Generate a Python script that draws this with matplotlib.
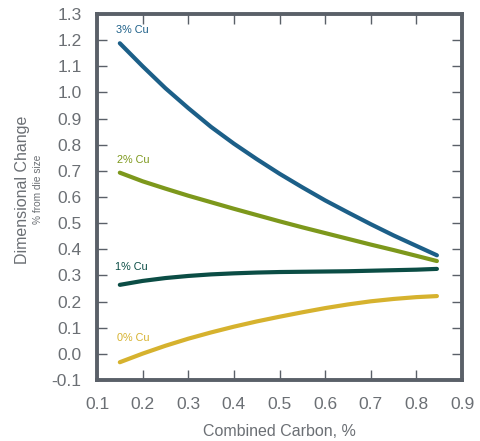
import numpy as np
import matplotlib
matplotlib.use("Agg")
from matplotlib import pyplot as plt

# combined carbon (%) and dimensional change (% from die size)
carbon = [0.15, 0.20, 0.25, 0.30, 0.35, 0.40, 0.45, 0.50, 0.55, 0.60, 0.65, 0.70, 0.75, 0.80, 0.845]
cu3 = [1.188, 1.100, 1.016, 0.940, 0.868, 0.804, 0.745, 0.689, 0.637, 0.587, 0.541, 0.496, 0.453, 0.413, 0.377]
cu2 = [0.693, 0.660, 0.632, 0.605, 0.580, 0.555, 0.531, 0.507, 0.484, 0.462, 0.440, 0.418, 0.397, 0.375, 0.355]
cu1 = [0.264, 0.279, 0.290, 0.298, 0.304, 0.308, 0.311, 0.313, 0.314, 0.315, 0.316, 0.318, 0.320, 0.322, 0.325]
cu0 = [-0.032, 0.001, 0.031, 0.058, 0.082, 0.104, 0.124, 0.142, 0.159, 0.175, 0.189, 0.201, 0.210, 0.217, 0.221]

series_labels = ["3% Cu", "2% Cu", "1% Cu", "0% Cu"]
label_pos = [(0.141, 1.239), (0.143, 0.741), (0.139, 0.334), (0.144, 0.059)]
colors = ["#1c5f88", "#7d981c", "#0b4d45", "#d6b22e"]

xticks = [0.1, 0.2, 0.3, 0.4, 0.5, 0.6, 0.7, 0.8, 0.9]
yticks = [-0.1, 0.0, 0.1, 0.2, 0.3, 0.4, 0.5, 0.6, 0.7, 0.8, 0.9, 1.0, 1.1, 1.2, 1.3]

plt.rcParams['font.family'] = ['Liberation Sans Narrow', 'Liberation Sans', 'DejaVu Sans']
grey = "#6b6f74"
spine_c = "#5a6068"

fig = plt.figure(figsize=(4.81, 4.41), dpi=100)
ax = fig.add_axes([0.2017, 0.1383, 0.7588, 0.83])

for ys, c in zip([cu3, cu2, cu1, cu0], colors):
    ax.plot(carbon, ys, color=c, lw=3, solid_capstyle='round', solid_joinstyle='round')

for lab, (lx, ly), c in zip(series_labels, label_pos, colors):
    ax.text(lx, ly, lab, color=c, fontsize=7.8, ha='left', va='center',
            family=['Liberation Sans', 'DejaVu Sans'])

ax.set_xlim(0.1, 0.9)
ax.set_ylim(-0.1, 1.3)
ax.set_xticks(xticks)
ax.set_yticks(yticks)
ax.set_xticklabels([f"{v:.1f}" for v in xticks])
ax.set_yticklabels([f"{v:.1f}" for v in yticks])
ax.tick_params(direction='in', length=7.5, width=1, color=spine_c, labelcolor=grey,
               labelsize=12.5, top=True, right=True, pad=12)
ax.tick_params(axis='y', pad=11)
for s in ax.spines.values():
    s.set_color(spine_c)
    s.set_linewidth(2.8)

ax.set_xlabel("Combined Carbon, %", color=grey, fontsize=11.5,
              family=['Liberation Sans', 'DejaVu Sans'], labelpad=9)
fig.text(0.046, 0.57, "Dimensional Change", rotation=90, color=grey, fontsize=11.5,
         ha='center', va='center', family=['Liberation Sans', 'DejaVu Sans'])
fig.text(0.08, 0.57, "% from die size", rotation=90, color=grey, fontsize=7.3,
         ha='center', va='center', family=['Liberation Sans', 'DejaVu Sans'])

fig.savefig("out.png", dpi=100)
